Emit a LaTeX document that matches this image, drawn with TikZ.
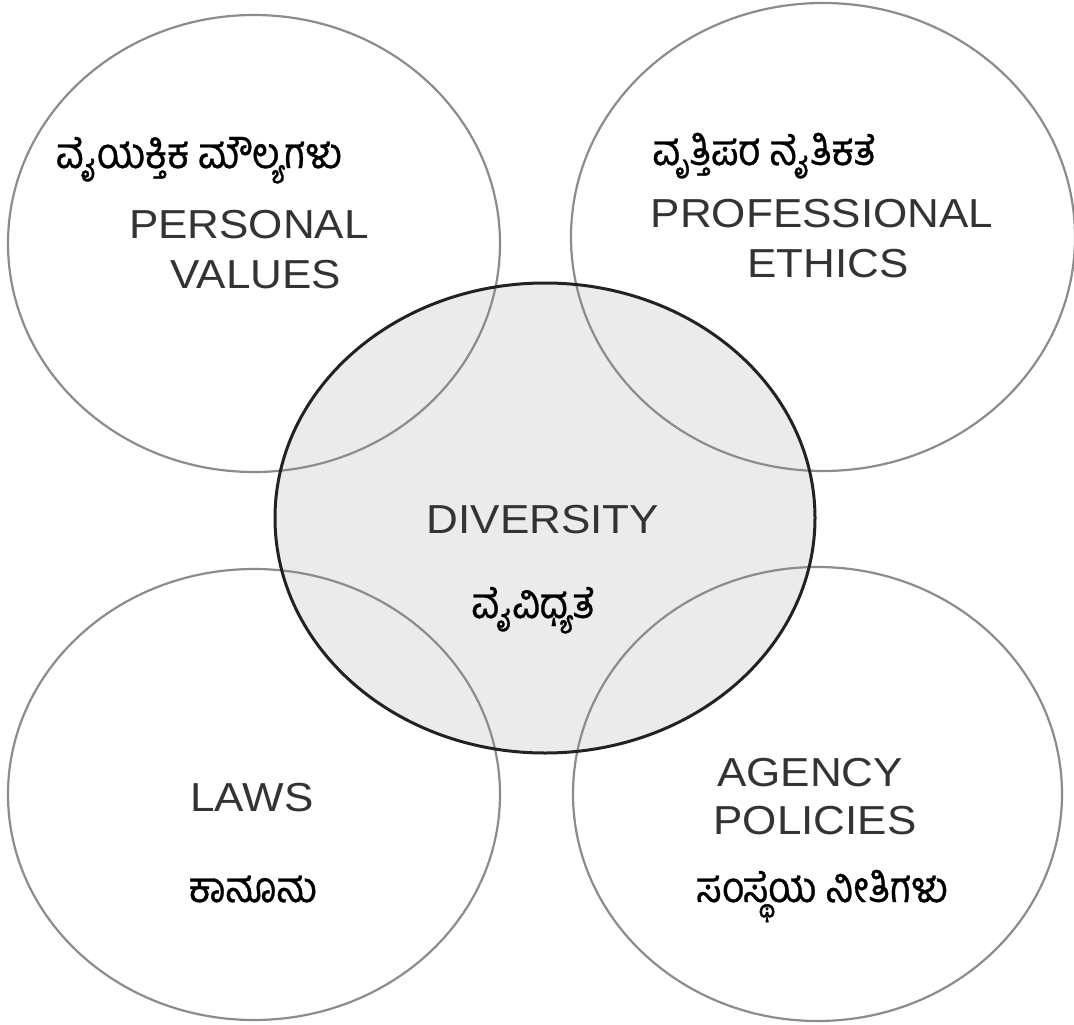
\documentclass[tikz,border=0pt]{standalone}
\usepackage{fontspec}
\usepackage{graphicx}
\setmainfont{Liberation Sans}
\newfontfamily\kn[Script=Kannada,FakeBold=0.8]{Hind Mysuru}
\usetikzlibrary{shapes.geometric}
\definecolor{ringgray}{HTML}{8C8C8C}
\definecolor{corefill}{HTML}{EBEBEB}
\definecolor{coreline}{HTML}{222222}
\definecolor{engtext}{HTML}{333333}
\newcommand\sqz[1]{\scalebox{1}[0.92]{#1}}
\newcommand\tall[1]{\scalebox{1}[1.12]{#1}}
\tikzset{
  ring/.style={ellipse, draw=ringgray, line width=2.2pt, inner sep=0pt},
  en/.style={anchor=base, text=engtext, font=\fontsize{44}{48}\selectfont, inner sep=0pt},
  kan/.style={anchor=base, text=black, font=\kn\fontsize{38}{42}\selectfont, inner sep=0pt},
}
\begin{document}
\begin{tikzpicture}[x=1pt,y=-1pt]
\useasboundingbox (0,0) rectangle (1074,1025);
\fill[white] (0,0) rectangle (1074,1025);
% central fill
\node[ellipse, fill=corefill, inner sep=0pt, minimum width=540pt, minimum height=470pt] (core) at (545,518) {};
% outer rings
\node[ring, minimum width=492pt, minimum height=457pt] (tl) at (254,243.5) {};
\node[ring, minimum width=504pt, minimum height=468pt] (tr) at (823,237) {};
\node[ring, minimum width=492pt, minimum height=451pt] (bl) at (254,794.5) {};
\node[ring, minimum width=489pt, minimum height=454pt] (br) at (817.5,794) {};
% central outline
\draw[coreline, line width=3pt] (core.center) ellipse [x radius=270pt, y radius=235pt];
% English labels
\node[en] (pv1) at (249,238) {\sqz{PERSONAL}};
\node[en] (pv2) at (256,288) {\sqz{VALUES}};
\node[en] (pe1) at (822,227) {\sqz{PROFESSIONAL}};
\node[en] (pe2) at (828,277) {\sqz{ETHICS}};
\node[en] (dv) at (543,533) {\sqz{DIVERSITY}};
\node[en] (lw) at (252,811) {\sqz{LAWS}};
\node[en] (ag1) at (810,786) {\sqz{AGENCY}};
\node[en] (ag2) at (815,834) {\sqz{POLICIES}};
% Kannada labels
\node[kan] (k1) at (199,168) {\tall{ವೈಯಕ್ತಿಕ ಮೌಲ್ಯಗಳು}};
\node[kan] (k2) at (764,165) {\tall{ವೃತ್ತಿಪರ ನೈತಿಕತೆ}};
\node[kan] (k3) at (533,618) {\tall{ವೈವಿಧ್ಯತೆ}};
\node[kan] (k4) at (253,902) {\tall{ಕಾನೂನು}};
\node[kan] (k5) at (822,902) {\tall{ಸಂಸ್ಥೆಯ ನೀತಿಗಳು}};
\end{tikzpicture}
\end{document}
